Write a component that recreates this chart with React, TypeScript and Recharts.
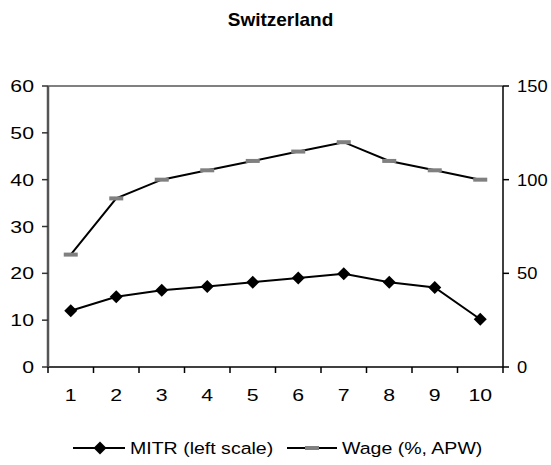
import { ComposedChart, Line, XAxis, YAxis, ReferenceLine } from "recharts";

const categories = [1, 2, 3, 4, 5, 6, 7, 8, 9, 10];
const mitr = [12, 15, 16.4, 17.2, 18.1, 19, 19.9, 18.1, 17, 10.2];
const wage = [60, 90, 100, 105, 110, 115, 120, 110, 105, 100];
const leftTicks = [0, 10, 20, 30, 40, 50, 60];
const rightTicks = [0, 50, 100, 150];
const categoryEdges = [0.5, 1.5, 2.5, 3.5, 4.5, 5.5, 6.5, 7.5, 8.5, 9.5, 10.5];

const data = categories.map((c, i) => ({ x: c, mitr: mitr[i], wage: wage[i] }));
const xTicks = [...categoryEdges, ...categories].sort((a, b) => a - b);

const font = "'Liberation Sans', Arial, sans-serif";
const stretch = 1.25;

const Diamond = (props: any) => {
    const { cx, cy } = props;
    if (cx == null || cy == null) return null;
    return <path d={`M${cx},${cy - 6.5}L${cx + 6.5},${cy}L${cx},${cy + 6.5}L${cx - 6.5},${cy}Z`} fill="#000"/>;
};

const Dash = (props: any) => {
    const { cx, cy } = props;
    if (cx == null || cy == null) return null;
    return <rect x={cx - 7} y={cy - 2} width={14} height={4} fill="#808080"/>;
};

const YTick = (props: any) => {
    const { x, y, payload, textAnchor } = props;
    const sx = textAnchor === "start" ? 1.08 : stretch;
    return <text x={0} y={0} transform={`translate(${x},${y}) scale(${sx},1)`} textAnchor={textAnchor}
                 dy="0.355em" fill="#000" fontSize={17} fontFamily={font}>{payload.value}</text>;
};

const XTick = (props: any) => {
    const { x, y, payload } = props;
    if (!Number.isInteger(payload.value)) {
        return <line x1={x} y1={y} x2={x} y2={y + 6} stroke="#000" strokeWidth={1.5}/>;
    }
    return <text x={0} y={0} transform={`translate(${x},${y + 22}) scale(${stretch},1)`} textAnchor="middle"
                 dy="0.71em" fill="#000" fontSize={17} fontFamily={font}>{payload.value}</text>;
};

const ChartLegend = () => (
    <svg width={551} height={30} style={{ position: "absolute", left: 0, top: 433 }}>
        <line x1={73} y1={15} x2={125} y2={15} stroke="#000" strokeWidth={2}/>
        <path d="M100,8.5L106.5,15L100,21.5L93.5,15Z" fill="#000"/>
        <text x={0} y={0} transform="translate(130,15) scale(1.15,1)" dy="0.355em" fontSize={17} fontFamily={font} fill="#000">MITR (left scale)</text>
        <line x1={287} y1={15} x2={337} y2={15} stroke="#000" strokeWidth={2}/>
        <rect x={305} y={13} width={14} height={4} fill="#808080"/>
        <text x={0} y={0} transform="translate(342,15) scale(1.15,1)" dy="0.355em" fontSize={17} fontFamily={font} fill="#000">Wage (%, APW)</text>
    </svg>
);

export default function App() {
    return <div style={{ position: "absolute", left: 0, top: 0, width: 551, height: 465, background: "#fff", overflow: "hidden" }}>
        <div style={{ position: "absolute", left: 0, top: 9, width: 561, textAlign: "center", fontFamily: font, fontWeight: "bold", fontSize: 19, lineHeight: "normal" }}>Switzerland</div>
        <ComposedChart width={551} height={465} data={data} margin={{ top: 86, right: 0, left: 8, bottom: 58 }}>
            <XAxis type="number" dataKey="x" domain={[0.5, 10.5]} ticks={xTicks} interval={0}
                   tick={<XTick/>} tickLine={false} tickSize={0} tickMargin={0} height={40}
                   axisLine={{ stroke: "#000", strokeWidth: 1.5 }}/>
            <YAxis yAxisId="left" domain={[0, 60]} ticks={leftTicks} width={40} tickSize={6} tickMargin={8}
                   axisLine={{ stroke: "#555", strokeWidth: 2.5 }} tickLine={{ stroke: "#333", strokeWidth: 1.5 }}
                   tick={<YTick/>}/>
            <YAxis yAxisId="right" orientation="right" domain={[0, 150]} ticks={rightTicks} width={48} tickSize={6} tickMargin={8}
                   axisLine={{ stroke: "#000", strokeWidth: 1.5 }} tickLine={{ stroke: "#000", strokeWidth: 1.5 }}
                   tick={<YTick/>}/>
            <ReferenceLine yAxisId="left" y={60} stroke="#808080" strokeWidth={2}/>
            <Line yAxisId="right" dataKey="wage" stroke="#000" strokeWidth={2} dot={<Dash/>} activeDot={false} isAnimationActive={false}/>
            <Line yAxisId="left" dataKey="mitr" stroke="#000" strokeWidth={2} dot={<Diamond/>} activeDot={false} isAnimationActive={false}/>
        </ComposedChart>
        <ChartLegend/>
    </div>;
}
